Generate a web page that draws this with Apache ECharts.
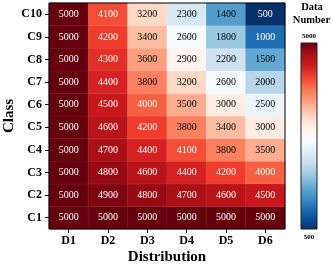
<!DOCTYPE html>
<html><head><meta charset="utf-8">
<script src="https://cdn.jsdelivr.net/npm/echarts@6/dist/echarts.min.js"></script>
<style>html,body{margin:0;padding:0;background:#fff}#c{width:332px;height:267px}</style>
</head><body><div id="c"></div>
<script>
const distributions = ['D1','D2','D3','D4','D5','D6'];
const classes = ['C1','C2','C3','C4','C5','C6','C7','C8','C9','C10'];
// rows: C1..C10, columns D1..D6
const C1  = [5000,5000,5000,5000,5000,5000];
const C2  = [5000,4900,4800,4700,4600,4500];
const C3  = [5000,4800,4600,4400,4200,4000];
const C4  = [5000,4700,4400,4100,3800,3500];
const C5  = [5000,4600,4200,3800,3400,3000];
const C6  = [5000,4500,4000,3500,3000,2500];
const C7  = [5000,4400,3800,3200,2600,2000];
const C8  = [5000,4300,3600,2900,2200,1500];
const C9  = [5000,4200,3400,2600,1800,1000];
const C10 = [5000,4100,3200,2300,1400,500];
const rows = [C1,C2,C3,C4,C5,C6,C7,C8,C9,C10];
const colorbarTicks = ['5000','500'];
const vMin = 500, vMax = 5000;

const palette = ['#08306b','#08519c','#2171b5','#4292c6','#6baed6','#9ecae1','#c6dbef','#deebf7','#f7fbff',
                 '#fff5f0','#fee0d2','#fcbba1','#fc9272','#fb6a4a','#ef3b2c','#cb181d','#a50f15','#67000d'];

const font = '"Liberation Serif","DejaVu Serif",serif';
const data = [];
rows.forEach((r, yi) => r.forEach((v, xi) => {
  const white = v >= 4000 || v <= 1000;
  data.push({value: [xi, yi, v], label: {color: white ? '#ffffff' : '#000000'}});
}));

const stops = palette.map((c, i) => ({offset: 1 - i / (palette.length - 1), color: c}));

const chart = echarts.init(document.getElementById('c'));
chart.setOption({
  animation: false,
  textStyle: {fontFamily: font},
  grid: {left: 49, top: 3, width: 236, height: 226, show: true, z: 10, outerBoundsMode: 'none', containLabel: false,
         borderColor: '#000', borderWidth: 1, backgroundColor: 'transparent'},
  xAxis: {type: 'category', data: distributions,
    name: 'Distribution', nameLocation: 'middle', nameGap: 21, nameMoveOverlap: false,
    nameTextStyle: {fontFamily: font, fontWeight: 'bold', fontSize: 15, color: '#000'},
    axisLine: {show: false}, axisTick: {show: true, alignWithLabel: true, length: 4, lineStyle: {color: '#000'}},
    axisLabel: {fontFamily: font, fontWeight: 'bold', fontSize: 12, color: '#000', margin: 6},
    splitLine: {show: false}},
  yAxis: {type: 'category', data: classes,
    name: 'Class', nameLocation: 'middle', nameGap: 32, nameRotate: 90, nameMoveOverlap: false,
    nameTextStyle: {fontFamily: font, fontWeight: 'bold', fontSize: 15, color: '#000'},
    axisLine: {show: false}, axisTick: {show: true, alignWithLabel: true, length: 4, lineStyle: {color: '#000'}},
    axisLabel: {fontFamily: font, fontWeight: 'bold', fontSize: 12, color: '#000', margin: 7},
    splitLine: {show: false}},
  visualMap: {type: 'continuous', min: vMin, max: vMax, show: false,
    inRange: {color: palette}},
  graphic: [
    {type: 'text', x: 312, y: 7, style: {text: 'Data', fontFamily: font, fontWeight: 'bold', fontSize: 10.5, fill: '#000', align: 'center', verticalAlign: 'middle'}},
    {type: 'text', x: 311.5, y: 20, style: {text: 'Number', fontFamily: font, fontWeight: 'bold', fontSize: 10.5, fill: '#000', align: 'center', verticalAlign: 'middle'}},
    {type: 'rect', shape: {x: 301, y: 43, width: 16, height: 186},
      style: {fill: new echarts.graphic.LinearGradient(0, 0, 0, 1, stops), stroke: '#222', lineWidth: 1}},
    {type: 'text', x: 309, y: 36, style: {text: colorbarTicks[0], fontFamily: font, fontWeight: 'bold', fontSize: 7, fill: '#000', align: 'center', verticalAlign: 'middle'}},
    {type: 'text', x: 309, y: 237, style: {text: colorbarTicks[1], fontFamily: font, fontWeight: 'bold', fontSize: 7, fill: '#000', align: 'center', verticalAlign: 'middle'}}
  ],
  series: [{type: 'heatmap', data: data,
    itemStyle: {borderColor: 'rgba(255,255,255,0.12)', borderWidth: 0.5},
    label: {show: true, fontFamily: font, fontSize: 10}}]
});
</script></body></html>
